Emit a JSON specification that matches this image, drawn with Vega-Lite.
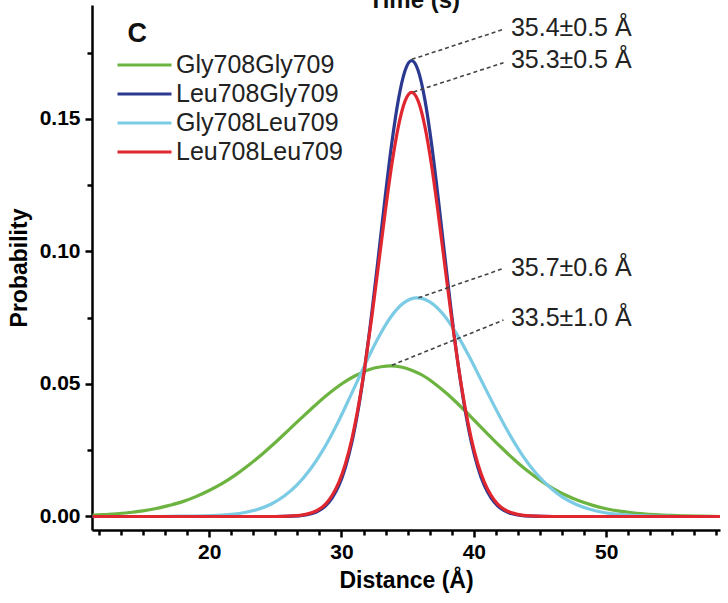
{
  "$schema": "https://vega.github.io/schema/vega-lite/v6.json",
  "width": 628,
  "height": 525,
  "autosize": "none",
  "padding": {"left": 92, "top": 5, "right": 8, "bottom": 73},
  "background": "white",
  "config": {"view": {"stroke": null}, "font": "Liberation Sans"},
  "datasets": {
    "curves": [
      {"s": "Gly708Gly709", "x": 11.2, "y": 0.0005},
      {"s": "Gly708Gly709", "x": 12, "y": 0.0007},
      {"s": "Gly708Gly709", "x": 13, "y": 0.0010},
      {"s": "Gly708Gly709", "x": 14, "y": 0.0015},
      {"s": "Gly708Gly709", "x": 15, "y": 0.0021},
      {"s": "Gly708Gly709", "x": 16, "y": 0.0030},
      {"s": "Gly708Gly709", "x": 17, "y": 0.0042},
      {"s": "Gly708Gly709", "x": 18, "y": 0.0056},
      {"s": "Gly708Gly709", "x": 19, "y": 0.0075},
      {"s": "Gly708Gly709", "x": 20, "y": 0.0098},
      {"s": "Gly708Gly709", "x": 21, "y": 0.0125},
      {"s": "Gly708Gly709", "x": 22, "y": 0.0157},
      {"s": "Gly708Gly709", "x": 23, "y": 0.0194},
      {"s": "Gly708Gly709", "x": 24, "y": 0.0235},
      {"s": "Gly708Gly709", "x": 25, "y": 0.0279},
      {"s": "Gly708Gly709", "x": 26, "y": 0.0326},
      {"s": "Gly708Gly709", "x": 27, "y": 0.0373},
      {"s": "Gly708Gly709", "x": 28, "y": 0.0419},
      {"s": "Gly708Gly709", "x": 29, "y": 0.0462},
      {"s": "Gly708Gly709", "x": 30, "y": 0.0500},
      {"s": "Gly708Gly709", "x": 31, "y": 0.0530},
      {"s": "Gly708Gly709", "x": 32, "y": 0.0553},
      {"s": "Gly708Gly709", "x": 33, "y": 0.0565},
      {"s": "Gly708Gly709", "x": 33.7, "y": 0.0568},
      {"s": "Gly708Gly709", "x": 34.5, "y": 0.0564},
      {"s": "Gly708Gly709", "x": 35.3, "y": 0.0552},
      {"s": "Gly708Gly709", "x": 36, "y": 0.0536},
      {"s": "Gly708Gly709", "x": 37, "y": 0.0503},
      {"s": "Gly708Gly709", "x": 38, "y": 0.0462},
      {"s": "Gly708Gly709", "x": 39, "y": 0.0415},
      {"s": "Gly708Gly709", "x": 40, "y": 0.0365},
      {"s": "Gly708Gly709", "x": 41, "y": 0.0314},
      {"s": "Gly708Gly709", "x": 42, "y": 0.0264},
      {"s": "Gly708Gly709", "x": 43, "y": 0.0217},
      {"s": "Gly708Gly709", "x": 44, "y": 0.0174},
      {"s": "Gly708Gly709", "x": 45, "y": 0.0137},
      {"s": "Gly708Gly709", "x": 46, "y": 0.0105},
      {"s": "Gly708Gly709", "x": 47, "y": 0.0079},
      {"s": "Gly708Gly709", "x": 48, "y": 0.0058},
      {"s": "Gly708Gly709", "x": 49, "y": 0.0042},
      {"s": "Gly708Gly709", "x": 50, "y": 0.0029},
      {"s": "Gly708Gly709", "x": 51, "y": 0.0020},
      {"s": "Gly708Gly709", "x": 52, "y": 0.0014},
      {"s": "Gly708Gly709", "x": 53, "y": 0.0009},
      {"s": "Gly708Gly709", "x": 54, "y": 0.0006},
      {"s": "Gly708Gly709", "x": 55, "y": 0.0004},
      {"s": "Gly708Gly709", "x": 56, "y": 0.0002},
      {"s": "Gly708Gly709", "x": 57, "y": 0.0001},
      {"s": "Gly708Gly709", "x": 58.6, "y": 0.0},

      {"s": "Leu708Gly709", "x": 11.2, "y": 0.0},
      {"s": "Leu708Gly709", "x": 25, "y": 0.0},
      {"s": "Leu708Gly709", "x": 26.3, "y": 0.0001},
      {"s": "Leu708Gly709", "x": 27.3, "y": 0.0006},
      {"s": "Leu708Gly709", "x": 27.8, "y": 0.0011},
      {"s": "Leu708Gly709", "x": 28.3, "y": 0.0022},
      {"s": "Leu708Gly709", "x": 28.8, "y": 0.0040},
      {"s": "Leu708Gly709", "x": 29.3, "y": 0.0070},
      {"s": "Leu708Gly709", "x": 29.8, "y": 0.0116},
      {"s": "Leu708Gly709", "x": 30.3, "y": 0.0186},
      {"s": "Leu708Gly709", "x": 30.8, "y": 0.0283},
      {"s": "Leu708Gly709", "x": 31.3, "y": 0.0414},
      {"s": "Leu708Gly709", "x": 31.8, "y": 0.0578},
      {"s": "Leu708Gly709", "x": 32.3, "y": 0.0772},
      {"s": "Leu708Gly709", "x": 32.8, "y": 0.0986},
      {"s": "Leu708Gly709", "x": 33.3, "y": 0.1205},
      {"s": "Leu708Gly709", "x": 33.8, "y": 0.1408},
      {"s": "Leu708Gly709", "x": 34.3, "y": 0.1573},
      {"s": "Leu708Gly709", "x": 34.8, "y": 0.1682},
      {"s": "Leu708Gly709", "x": 35.3, "y": 0.1720},
      {"s": "Leu708Gly709", "x": 35.8, "y": 0.1682},
      {"s": "Leu708Gly709", "x": 36.3, "y": 0.1573},
      {"s": "Leu708Gly709", "x": 36.8, "y": 0.1408},
      {"s": "Leu708Gly709", "x": 37.3, "y": 0.1205},
      {"s": "Leu708Gly709", "x": 37.8, "y": 0.0986},
      {"s": "Leu708Gly709", "x": 38.3, "y": 0.0772},
      {"s": "Leu708Gly709", "x": 38.8, "y": 0.0578},
      {"s": "Leu708Gly709", "x": 39.3, "y": 0.0414},
      {"s": "Leu708Gly709", "x": 39.8, "y": 0.0283},
      {"s": "Leu708Gly709", "x": 40.3, "y": 0.0186},
      {"s": "Leu708Gly709", "x": 40.8, "y": 0.0116},
      {"s": "Leu708Gly709", "x": 41.3, "y": 0.0070},
      {"s": "Leu708Gly709", "x": 41.8, "y": 0.0040},
      {"s": "Leu708Gly709", "x": 42.3, "y": 0.0022},
      {"s": "Leu708Gly709", "x": 42.8, "y": 0.0011},
      {"s": "Leu708Gly709", "x": 43.3, "y": 0.0006},
      {"s": "Leu708Gly709", "x": 44.3, "y": 0.0001},
      {"s": "Leu708Gly709", "x": 46, "y": 0.0},
      {"s": "Leu708Gly709", "x": 58.6, "y": 0.0},

      {"s": "Gly708Leu709", "x": 11.2, "y": 0.0},
      {"s": "Gly708Leu709", "x": 15.7, "y": 0.0},
      {"s": "Gly708Leu709", "x": 17.7, "y": 0.0001},
      {"s": "Gly708Leu709", "x": 19.7, "y": 0.0002},
      {"s": "Gly708Leu709", "x": 20.7, "y": 0.0004},
      {"s": "Gly708Leu709", "x": 21.7, "y": 0.0008},
      {"s": "Gly708Leu709", "x": 22.7, "y": 0.0015},
      {"s": "Gly708Leu709", "x": 23.7, "y": 0.0027},
      {"s": "Gly708Leu709", "x": 24.7, "y": 0.0047},
      {"s": "Gly708Leu709", "x": 25.7, "y": 0.0078},
      {"s": "Gly708Leu709", "x": 26.7, "y": 0.0122},
      {"s": "Gly708Leu709", "x": 27.7, "y": 0.0182},
      {"s": "Gly708Leu709", "x": 28.7, "y": 0.0259},
      {"s": "Gly708Leu709", "x": 29.7, "y": 0.0352},
      {"s": "Gly708Leu709", "x": 30.7, "y": 0.0457},
      {"s": "Gly708Leu709", "x": 31.7, "y": 0.0565},
      {"s": "Gly708Leu709", "x": 32.7, "y": 0.0667},
      {"s": "Gly708Leu709", "x": 33.7, "y": 0.0751},
      {"s": "Gly708Leu709", "x": 34.7, "y": 0.0806},
      {"s": "Gly708Leu709", "x": 35.7, "y": 0.0825},
      {"s": "Gly708Leu709", "x": 36.7, "y": 0.0809},
      {"s": "Gly708Leu709", "x": 37.7, "y": 0.0762},
      {"s": "Gly708Leu709", "x": 38.7, "y": 0.0689},
      {"s": "Gly708Leu709", "x": 39.7, "y": 0.0599},
      {"s": "Gly708Leu709", "x": 40.7, "y": 0.0500},
      {"s": "Gly708Leu709", "x": 41.7, "y": 0.0402},
      {"s": "Gly708Leu709", "x": 42.7, "y": 0.0310},
      {"s": "Gly708Leu709", "x": 43.7, "y": 0.0229},
      {"s": "Gly708Leu709", "x": 44.7, "y": 0.0163},
      {"s": "Gly708Leu709", "x": 45.7, "y": 0.0112},
      {"s": "Gly708Leu709", "x": 46.7, "y": 0.0073},
      {"s": "Gly708Leu709", "x": 47.7, "y": 0.0046},
      {"s": "Gly708Leu709", "x": 48.7, "y": 0.0028},
      {"s": "Gly708Leu709", "x": 49.7, "y": 0.0016},
      {"s": "Gly708Leu709", "x": 50.7, "y": 0.0009},
      {"s": "Gly708Leu709", "x": 51.7, "y": 0.0005},
      {"s": "Gly708Leu709", "x": 52.7, "y": 0.0003},
      {"s": "Gly708Leu709", "x": 53.7, "y": 0.0001},
      {"s": "Gly708Leu709", "x": 55.7, "y": 0.0},
      {"s": "Gly708Leu709", "x": 58.6, "y": 0.0},

      {"s": "Leu708Leu709", "x": 11.2, "y": 0.0},
      {"s": "Leu708Leu709", "x": 25, "y": 0.0},
      {"s": "Leu708Leu709", "x": 26.3, "y": 0.0002},
      {"s": "Leu708Leu709", "x": 27.3, "y": 0.0008},
      {"s": "Leu708Leu709", "x": 27.8, "y": 0.0015},
      {"s": "Leu708Leu709", "x": 28.3, "y": 0.0027},
      {"s": "Leu708Leu709", "x": 28.8, "y": 0.0047},
      {"s": "Leu708Leu709", "x": 29.3, "y": 0.0080},
      {"s": "Leu708Leu709", "x": 29.8, "y": 0.0129},
      {"s": "Leu708Leu709", "x": 30.3, "y": 0.0199},
      {"s": "Leu708Leu709", "x": 30.8, "y": 0.0296},
      {"s": "Leu708Leu709", "x": 31.3, "y": 0.0422},
      {"s": "Leu708Leu709", "x": 31.8, "y": 0.0577},
      {"s": "Leu708Leu709", "x": 32.3, "y": 0.0756},
      {"s": "Leu708Leu709", "x": 32.8, "y": 0.0951},
      {"s": "Leu708Leu709", "x": 33.3, "y": 0.1147},
      {"s": "Leu708Leu709", "x": 33.8, "y": 0.1327},
      {"s": "Leu708Leu709", "x": 34.3, "y": 0.1472},
      {"s": "Leu708Leu709", "x": 34.8, "y": 0.1567},
      {"s": "Leu708Leu709", "x": 35.3, "y": 0.1600},
      {"s": "Leu708Leu709", "x": 35.8, "y": 0.1567},
      {"s": "Leu708Leu709", "x": 36.3, "y": 0.1472},
      {"s": "Leu708Leu709", "x": 36.8, "y": 0.1327},
      {"s": "Leu708Leu709", "x": 37.3, "y": 0.1147},
      {"s": "Leu708Leu709", "x": 37.8, "y": 0.0951},
      {"s": "Leu708Leu709", "x": 38.3, "y": 0.0756},
      {"s": "Leu708Leu709", "x": 38.8, "y": 0.0577},
      {"s": "Leu708Leu709", "x": 39.3, "y": 0.0422},
      {"s": "Leu708Leu709", "x": 39.8, "y": 0.0296},
      {"s": "Leu708Leu709", "x": 40.3, "y": 0.0199},
      {"s": "Leu708Leu709", "x": 40.8, "y": 0.0129},
      {"s": "Leu708Leu709", "x": 41.3, "y": 0.0080},
      {"s": "Leu708Leu709", "x": 41.8, "y": 0.0047},
      {"s": "Leu708Leu709", "x": 42.3, "y": 0.0027},
      {"s": "Leu708Leu709", "x": 42.8, "y": 0.0015},
      {"s": "Leu708Leu709", "x": 43.3, "y": 0.0008},
      {"s": "Leu708Leu709", "x": 44.3, "y": 0.0002},
      {"s": "Leu708Leu709", "x": 46, "y": 0.0},
      {"s": "Leu708Leu709", "x": 58.6, "y": 0.0}
    ],
    "ann": [
      {"label": "35.4±0.5 Å", "x1": 35.31, "y1": 0.1725, "x2": 42.24, "y2": 0.1838, "tx": 42.8, "ty": 0.1843},
      {"label": "35.3±0.5 Å", "x1": 35.44, "y1": 0.1602, "x2": 42.24, "y2": 0.1712, "tx": 42.8, "ty": 0.1722},
      {"label": "35.7±0.6 Å", "x1": 35.82, "y1": 0.0825, "x2": 42.24, "y2": 0.0936, "tx": 42.8, "ty": 0.0937},
      {"label": "33.5±1.0 Å", "x1": 33.81, "y1": 0.0571, "x2": 42.24, "y2": 0.0741, "tx": 42.8, "ty": 0.0749}
    ],
    "panel": [
      {"t": "C", "x": 14.56, "y": 0.182}
    ],
    "toptext": [
      {"t": "Time (s)", "x": 35.5, "y": 0.1918}
    ]
  },
  "resolve": {"axis": {"x": "independent", "y": "independent"}},
  "layer": [
    {
      "data": {"name": "curves"},
      "mark": {"type": "line", "strokeWidth": 3.2, "interpolate": "monotone", "clip": true},
      "encoding": {
        "x": {
          "field": "x", "type": "quantitative",
          "scale": {"domain": [11.15, 58.6], "nice": false, "zero": false},
          "axis": {
            "orient": "bottom",
            "values": [11.6667, 13.3333, 15, 16.6667, 18.3333, 20, 21.6667, 23.3333, 25, 26.6667, 28.3333, 30, 31.6667, 33.3333, 35, 36.6667, 38.3333, 40, 41.6667, 43.3333, 45, 46.6667, 48.3333, 50, 51.6667, 53.3333, 55, 56.6667, 58.3333],
            "format": "d",
            "labelExpr": "indexof(['20', '30', '40', '50'], datum.label) >= 0 ? datum.label : ''",
            "tickSize": {"condition": {"test": "abs(datum.value / 10 - round(datum.value / 10)) < 0.01", "value": 7}, "value": 5},
            "tickWidth": 2.5, "tickColor": "#000",
            "domainWidth": 2.5, "domainColor": "#000",
            "grid": false, "labelOverlap": false, "labelFlush": false,
            "labelFont": "Liberation Sans", "labelFontSize": 21, "labelFontWeight": "bold", "labelColor": "#000", "labelPadding": 4,
            "title": "Distance (Å)", "titleFont": "Liberation Sans", "titleFontSize": 23, "titleFontWeight": "bold", "titleColor": "#000", "titlePadding": 7
          }
        },
        "y": {
          "field": "y", "type": "quantitative",
          "scale": {"domain": [-0.0051, 0.193], "nice": false, "zero": false},
          "axis": {
            "orient": "left",
            "values": [0, 0.025, 0.05, 0.075, 0.1, 0.125, 0.15, 0.175],
            "format": ".3f",
            "labelExpr": "indexof(['0.000', '0.050', '0.100', '0.150'], datum.label) >= 0 ? format(datum.value, '.2f') : ''",
            "tickSize": {"condition": {"test": "abs(datum.value / 0.05 - round(datum.value / 0.05)) < 0.01", "value": 7}, "value": 5},
            "tickWidth": 2.5, "tickColor": "#000",
            "domainWidth": 2.5, "domainColor": "#000",
            "grid": false, "labelOverlap": false, "labelFlush": false,
            "labelFont": "Liberation Sans", "labelFontSize": 21, "labelFontWeight": "bold", "labelColor": "#000", "labelPadding": 5,
            "title": "Probability", "titleFont": "Liberation Sans", "titleFontSize": 23, "titleFontWeight": "bold", "titleColor": "#000", "titlePadding": 8
          }
        },
        "color": {
          "field": "s", "type": "nominal",
          "scale": {"domain": ["Gly708Gly709", "Leu708Gly709", "Gly708Leu709", "Leu708Leu709"], "range": ["#6cb33f", "#2b3990", "#7ccbe5", "#e0262f"]},
          "legend": {
            "orient": "none", "legendX": 24, "legendY": 45.5, "title": null,
            "symbolType": "stroke", "symbolSize": 2916, "symbolStrokeWidth": 3,
            "clipHeight": 29, "rowPadding": 0, "padding": 0,
            "labelFont": "Liberation Sans", "labelFontSize": 25, "labelColor": "#222", "labelOffset": 3, "labelLimit": 400
          }
        }
      }
    },
    {
      "data": {"name": "ann"},
      "mark": {"type": "rule", "strokeDash": [4, 3], "strokeWidth": 1.6, "color": "#444"},
      "encoding": {
        "x": {"field": "x1", "type": "quantitative", "axis": null},
        "y": {"field": "y1", "type": "quantitative", "axis": null},
        "x2": {"field": "x2"},
        "y2": {"field": "y2"}
      }
    },
    {
      "data": {"name": "ann"},
      "mark": {"type": "text", "align": "left", "baseline": "middle", "font": "Liberation Sans", "fontSize": 25, "color": "#222"},
      "encoding": {
        "x": {"field": "tx", "type": "quantitative", "axis": null},
        "y": {"field": "ty", "type": "quantitative", "axis": null},
        "text": {"field": "label"}
      }
    },
    {
      "data": {"name": "panel"},
      "mark": {"type": "text", "align": "center", "baseline": "middle", "font": "Liberation Sans", "fontSize": 27, "fontWeight": "bold", "color": "#111"},
      "encoding": {
        "x": {"field": "x", "type": "quantitative", "axis": null},
        "y": {"field": "y", "type": "quantitative", "axis": null},
        "text": {"field": "t"}
      }
    },
    {
      "data": {"name": "toptext"},
      "mark": {"type": "text", "align": "center", "baseline": "alphabetic", "font": "Liberation Sans", "fontSize": 24, "fontWeight": "bold", "color": "#111", "clip": false},
      "encoding": {
        "x": {"field": "x", "type": "quantitative", "axis": null},
        "y": {"field": "y", "type": "quantitative", "axis": null},
        "text": {"field": "t"}
      }
    }
  ]
}
